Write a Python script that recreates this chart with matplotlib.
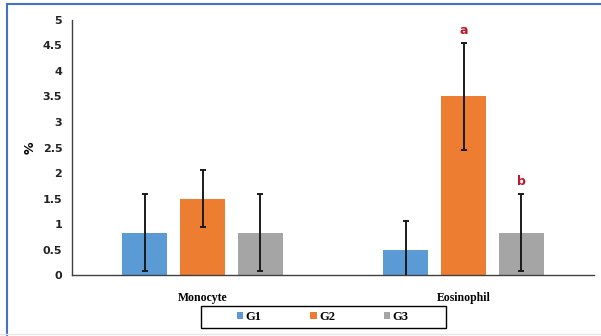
import numpy as np
import matplotlib.pyplot as plt
from matplotlib.lines import Line2D
from matplotlib.patches import Rectangle

categories = ['Monocyte', 'Eosinophil']
groups = ['G1', 'G2', 'G3']
g1 = [0.83, 0.5]
g2 = [1.5, 3.5]
g3 = [0.83, 0.83]
g1_err = [0.75, 0.55]
g2_err = [0.55, 1.05]
g3_err = [0.75, 0.75]
letters = {(1, 1): 'a', (1, 2): 'b'}

colors = ['#5B9BD5', '#ED7D31', '#A5A5A5']

fig = plt.figure(figsize=(6.01, 3.36), dpi=100)
ax = fig.add_axes([0.1198, 0.1815, 0.8686, 0.759])

x = np.arange(len(categories))
width = 0.172
step = 0.222
series = [(g1, g1_err), (g2, g2_err), (g3, g3_err)]
for i, (vals, errs) in enumerate(series):
    pos = x + (i - 1) * step
    ax.bar(pos, vals, width, color=colors[i], label=groups[i], zorder=2)
    ax.errorbar(pos, vals, yerr=errs, fmt='none', ecolor='#1a1a1a',
                elinewidth=1.4, capsize=2.5, capthick=1.4, zorder=3)
    for j in range(len(categories)):
        if (j, i) in letters:
            ax.text(pos[j], vals[j] + errs[j] + 0.12, letters[(j, i)],
                    ha='center', va='bottom', color='#C0182A',
                    fontsize=9, fontweight='bold')

ax.set_xlim(-0.5, 1.5)
ax.set_ylim(0, 5)
ax.set_yticks(np.arange(0, 5.01, 0.5))
ax.set_yticklabels(['0', '0.5', '1', '1.5', '2', '2.5', '3', '3.5', '4', '4.5', '5'])
ax.set_xticks(x)
ax.set_xticklabels(categories, family='Liberation Serif', fontweight='bold', fontsize=8.5)
for lab in ax.get_yticklabels():
    lab.set_fontweight('bold')
    lab.set_fontsize(8)
    lab.set_color('#222222')
ax.tick_params(axis='both', length=0)
ax.tick_params(axis='y', pad=7)
ax.tick_params(axis='x', pad=12)
ax.set_ylabel('%', fontsize=9, fontweight='bold', labelpad=4)
for s in ['top', 'right']:
    ax.spines[s].set_visible(False)
for s in ['left', 'bottom']:
    ax.spines[s].set_color('#404040')
    ax.spines[s].set_linewidth(1.0)

leg = fig.legend(loc='center', bbox_to_anchor=(0.537, 0.0565), ncol=3,
                 prop={'family': 'Liberation Serif', 'weight': 'bold', 'size': 9},
                 handlelength=0.5, handleheight=0.5, handletextpad=0.2,
                 columnspacing=3.9, frameon=False, borderaxespad=0)

# legend box drawn separately (wider than the entries)
fig.add_artist(Rectangle((201 / 601, 1 - 328 / 336), 245 / 601, 22 / 336,
                         transform=fig.transFigure, fill=False,
                         edgecolor='#000000', linewidth=1.0))

# outer frame like the screenshot
fig.add_artist(Line2D([0.0115, 0.0115], [0.0, 0.988], transform=fig.transFigure,
                      color='#4472C4', linewidth=1.5))
fig.add_artist(Line2D([0.0115, 1.0], [0.988, 0.988], transform=fig.transFigure,
                      color='#4472C4', linewidth=1.5))
fig.add_artist(Line2D([0.0, 1.0], [0.005, 0.005], transform=fig.transFigure,
                      color='#e6e6e6', linewidth=1.0))

fig.savefig('out.png', dpi=100)
